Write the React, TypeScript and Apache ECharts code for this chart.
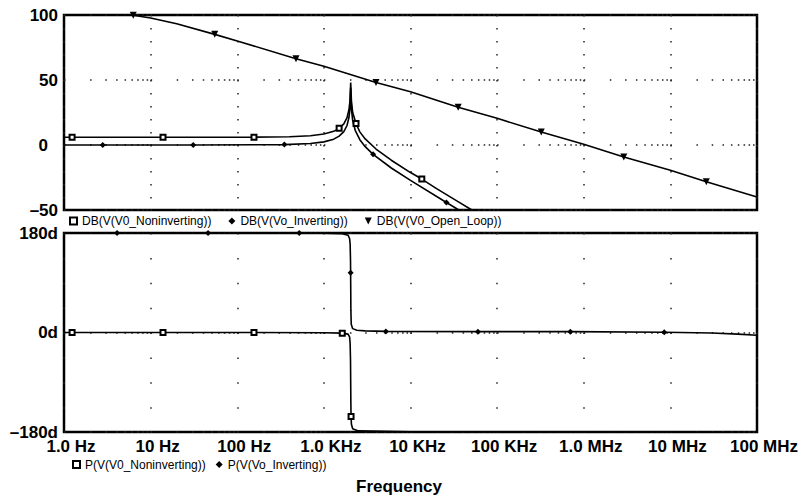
import { useEffect, useRef } from 'react';
import * as echarts from 'echarts';

// ---------- tick labels ----------
const FREQ_TICK_LABELS = ['1.0 Hz', '10 Hz', '100 Hz', '1.0 KHz', '10 KHz', '100 KHz', '1.0 MHz', '10 MHz', '100 MHz'];
const DB_TICKS = [-50, 0, 50, 100];
const DB_TICK_LABELS = ['\u201350', '0', '50', '100'];
const PHASE_TICKS = [-180, 0, 180];
const PHASE_TICK_LABELS = ['\u2013180d', '0d', '180d'];

// ---------- magnitude (dB) ----------
const nonInvDbFreq = [1, 1.24, 13.9, 156, 400, 700, 1000, 1300, 1500, 1700, 1850, 1950, 2000, 2040, 2080, 2150, 2350, 2600, 3000, 4000, 6000, 10000, 13500, 20000, 35000, 50000, 60000];
const nonInvDb = [6.0, 6.0, 6.0, 6.05, 6.3, 7.1, 8.4, 10.5, 12.8, 16.3, 21, 27.3, 34, 48, 34, 25, 16.5, 10.1, 4.7, -3.1, -11.7, -21.2, -26.2, -33.6, -43.4, -49.6, -52.8];
const nonInvDbMarkers = [1.24, 13.9, 156, 1500, 2350, 13500];

const invDbFreq = [1, 2.8, 31, 350, 700, 1000, 1300, 1500, 1700, 1850, 1950, 2000, 2040, 2080, 2150, 2300, 2600, 3000, 3700, 6000, 10000, 26000, 35000, 50000];
const invDb = [0, 0, 0, 0.3, 1.1, 2.4, 4.5, 6.8, 10.3, 15, 21.3, 28, 44, 28, 19, 11.3, 4.1, -1.3, -7.2, -17.7, -27.2, -44.2, -49.4, -55.6];
const invDbMarkers = [2.8, 31, 350, 3700, 26000];

const openLoopFreq = [1, 2, 4, 6.3, 10, 20, 55, 100, 477, 1000, 4000, 10000, 35500, 100000, 323000, 1e6, 2.9e6, 1e7, 2.6e7, 1e8];
const openLoopDb = [101.6, 101.3, 100.7, 99.8, 97.7, 93.3, 85.1, 80, 66.4, 60.5, 48, 41, 29, 20.5, 10, 0.5, -9.2, -19.5, -28.3, -40];
const openLoopMarkers = [6.3, 55, 477, 4000, 35500, 323000, 2.9e6, 2.6e7];

// ---------- phase (degrees) ----------
const nonInvPhFreq = [1, 1.24, 13.9, 156, 1000, 1630, 1900, 1980, 2010, 2030, 2040, 2050, 2060, 2080, 2150, 2500, 10000, 1e6, 1e7, 3e7, 1e8];
const nonInvPh = [0, 0, 0, -0.1, -0.4, -1.2, -3, -8, -20, -50, -90, -130, -152, -166, -174, -178, -179.5, -180, -180, -181, -184];
const nonInvPhMarkers = [1.24, 13.9, 156, 1630, 2060];

const invPhFreq = [1, 4.1, 46, 520, 1000, 1630, 1900, 1980, 2010, 2030, 2036, 2040, 2050, 2070, 2150, 2400, 3000, 5200, 60000, 700000, 8.5e6, 3e7, 6e7, 1e8];
const invPh = [180, 180, 180, 179.8, 179.6, 178.8, 176, 170, 160, 130, 108, 90, 40, 15, 7, 4, 3, 2, 1.5, 1.5, 0.5, -1, -3, -5];
const invPhMarkers = [4.1, 46, 520, 2036, 5200, 60000, 700000, 8.5e6];

const NAME_NI_DB = 'DB(V(V0_Noninverting))';
const NAME_INV_DB = 'DB(V(Vo_Inverting))';
const NAME_OL_DB = 'DB(V(V0_Open_Loop))';
const NAME_NI_PH = 'P(V(V0_Noninverting))';
const NAME_INV_PH = 'P(V(Vo_Inverting))';

const FONT = '"Liberation Sans", Arial, Helvetica, sans-serif';

// layout
const W = 803;
const H = 498;
const G_LEFT = 64;
const G_RIGHT = 46;
const DECADE_PX = (W - G_LEFT - G_RIGHT) / 8;

function logDotDash(dot: number): number[] {
  const mult = [1, 2, 3, 4, 5, 6, 7, 8, 9];
  const offs = mult.map((m) => Math.log10(m) * DECADE_PX);
  const arr: number[] = [];
  for (let i = 0; i < offs.length; i++) {
    const next = i + 1 < offs.length ? offs[i + 1] : DECADE_PX;
    arr.push(dot, next - offs[i] - dot);
  }
  return arr;
}

function buildData(freqs: number[], vals: number[], markers: number[]) {
  return freqs.map((f, i) => {
    const item: any = { value: [f, vals[i]] };
    if (!markers.includes(f)) item.symbol = 'none';
    return item;
  });
}

export default function App() {
  const ref = useRef<HTMLDivElement>(null);

  useEffect(() => {
    if (!ref.current) return;
    const chart = echarts.init(ref.current, undefined, { renderer: 'svg' });

    const lineStyle = { color: '#000', width: 1.6 };
    const squareMarker = {
      symbol: 'emptyRect',
      symbolSize: 5,
      itemStyle: { color: '#000', borderWidth: 1.3 },
    };
    const diamondMarker = {
      symbol: 'diamond',
      symbolSize: 6,
      itemStyle: { color: '#000' },
    };
    const triMarker = {
      symbol: 'triangle',
      symbolSize: 7,
      symbolRotate: 180,
      itemStyle: { color: '#000' },
    };

    const common = {
      type: 'line' as const,
      showSymbol: true,
      lineStyle,
      silent: true,
      emphasis: { disabled: true },
      z: 3,
    };

    const option: any = {
      animation: false,
      backgroundColor: '#fff',
      textStyle: { fontFamily: FONT },
      title: {
        text: 'Frequency',
        left: 356,
        top: 478,
        padding: 0,
        textStyle: { fontSize: 17, fontWeight: 'bold', color: '#000', fontFamily: FONT },
      },
      grid: [
        { left: G_LEFT, right: G_RIGHT, top: 15, height: 195, show: true, borderColor: '#000', borderWidth: 2.5, backgroundColor: 'transparent' },
        { left: G_LEFT, right: G_RIGHT, top: 233, height: 199, show: true, borderColor: '#000', borderWidth: 2.5, backgroundColor: 'transparent' },
      ],
      xAxis: [
        {
          gridIndex: 0,
          type: 'log',
          logBase: 10,
          min: 1,
          max: 1e8,
          splitNumber: 8,
          axisLine: { show: false },
          axisTick: { show: false },
          axisLabel: { show: false },
          splitLine: { show: true, lineStyle: { color: '#222', width: 1.5, type: [1.5, 11.5], cap: 'butt' } },
        },
        {
          gridIndex: 1,
          type: 'log',
          logBase: 10,
          min: 1,
          max: 1e8,
          splitNumber: 8,
          axisLine: { show: false },
          axisTick: { show: false },
          axisLabel: {
            show: true,
            margin: 5,
            color: '#000',
            fontSize: 17,
            lineHeight: 18,
            fontWeight: 'bold',
            fontFamily: FONT,
            padding: [0, 0, 0, 14],
            hideOverlap: false,
            showMinLabel: true,
            showMaxLabel: true,
            formatter: (v: number) => {
              const idx = Math.round(Math.log10(v));
              return FREQ_TICK_LABELS[idx] ?? '';
            },
          },
          splitLine: { show: true, lineStyle: { color: '#222', width: 1.5, type: [1.5, 23.375], cap: 'butt' } },
        },
      ],
      yAxis: [
        {
          gridIndex: 0,
          type: 'value',
          min: -50,
          max: 100,
          interval: 50,
          axisLine: { show: false },
          axisTick: { show: false },
          axisLabel: {
            margin: 6,
            color: '#000',
            fontSize: 17,
            fontWeight: 'bold',
            fontFamily: FONT,
            showMinLabel: true,
            showMaxLabel: true,
            formatter: (v: number) => {
              const i = DB_TICKS.indexOf(v);
              const t = i >= 0 ? DB_TICK_LABELS[i] : '';
              return v === 0 ? '{z|' + t + '}' : t;
            },
            rich: {
              z: { fontSize: 17, fontWeight: 'bold', color: '#000', fontFamily: FONT, padding: [0, 10, 0, 0] },
            },
          },
          splitLine: { show: true, lineStyle: { color: '#222', width: 1.5, type: logDotDash(1.5), cap: 'butt' } },
        },
        {
          gridIndex: 1,
          type: 'value',
          min: -180,
          max: 180,
          interval: 180,
          axisLine: { show: false },
          axisTick: { show: false },
          axisLabel: {
            margin: 6,
            color: '#000',
            fontSize: 17,
            fontWeight: 'bold',
            fontFamily: FONT,
            showMinLabel: true,
            showMaxLabel: true,
            formatter: (v: number) => {
              const i = PHASE_TICKS.indexOf(v);
              return i >= 0 ? PHASE_TICK_LABELS[i] : '';
            },
          },
          splitLine: { show: true, lineStyle: { color: '#222', width: 1.5, type: logDotDash(1.5), cap: 'butt' } },
        },
      ],
      legend: [
        {
          left: 69,
          top: 215,
          padding: 0,
          itemWidth: 7,
          itemHeight: 7,
          itemGap: 17,
          selectedMode: false,
          textStyle: { fontSize: 12, color: '#000', fontFamily: FONT },
          data: [
            { name: NAME_NI_DB, icon: 'rect', itemStyle: { color: '#fff', borderColor: '#000', borderWidth: 2 } },
            { name: NAME_INV_DB, icon: 'diamond', itemStyle: { color: '#000' } },
            { name: NAME_OL_DB, icon: 'path://M0,0 L10,0 L5,10 Z', itemStyle: { color: '#000' } },
          ],
        },
        {
          left: 72,
          top: 458,
          padding: 0,
          itemWidth: 7,
          itemHeight: 7,
          itemGap: 10,
          selectedMode: false,
          textStyle: { fontSize: 12, lineHeight: 13, color: '#000', fontFamily: FONT },
          data: [
            { name: NAME_NI_PH, icon: 'rect', itemStyle: { color: '#fff', borderColor: '#000', borderWidth: 2 } },
            { name: NAME_INV_PH, icon: 'diamond', itemStyle: { color: '#000' } },
          ],
        },
      ],
      series: [
        { ...common, ...squareMarker, name: NAME_NI_DB, xAxisIndex: 0, yAxisIndex: 0, data: buildData(nonInvDbFreq, nonInvDb, nonInvDbMarkers) },
        { ...common, ...diamondMarker, name: NAME_INV_DB, xAxisIndex: 0, yAxisIndex: 0, data: buildData(invDbFreq, invDb, invDbMarkers) },
        { ...common, ...triMarker, name: NAME_OL_DB, xAxisIndex: 0, yAxisIndex: 0, data: buildData(openLoopFreq, openLoopDb, openLoopMarkers) },
        { ...common, ...squareMarker, name: NAME_NI_PH, xAxisIndex: 1, yAxisIndex: 1, data: buildData(nonInvPhFreq, nonInvPh, nonInvPhMarkers) },
        { ...common, ...diamondMarker, name: NAME_INV_PH, xAxisIndex: 1, yAxisIndex: 1, data: buildData(invPhFreq, invPh, invPhMarkers) },
      ],
    };

    chart.setOption(option);
    return () => {
      chart.dispose();
    };
  }, []);

  return (
    <div
      ref={ref}
      style={{ position: 'fixed', left: 0, top: 0, width: W, height: H, background: '#fff' }}
    />
  );
}
